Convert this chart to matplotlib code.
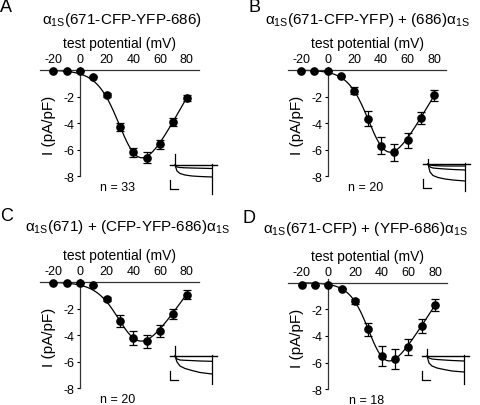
import numpy as np
import matplotlib
matplotlib.use("Agg")
import matplotlib.pyplot as plt

plt.rcParams['font.family'] = ['Liberation Sans', 'DejaVu Sans']
plt.rcParams['mathtext.fontset'] = 'custom'
plt.rcParams['mathtext.rm'] = 'Liberation Sans'
plt.rcParams['mathtext.it'] = 'Liberation Sans:italic'
plt.rcParams['axes.unicode_minus'] = False

# ---------------- data ----------------
voltages = [-20, -10, 0, 10, 20, 30, 40, 50, 60, 70, 80]
x_ticks = [-20, 0, 20, 40, 60, 80]
y_ticks = [-2, -4, -6, -8]

panel_letters = ['A', 'B', 'C', 'D']
panel_titles = [
    r'α$_{\mathregular{1S}}$(671-CFP-YFP-686)',
    r'α$_{\mathregular{1S}}$(671-CFP-YFP) + (686)α$_{\mathregular{1S}}$',
    r'α$_{\mathregular{1S}}$(671) + (CFP-YFP-686)α$_{\mathregular{1S}}$',
    r'α$_{\mathregular{1S}}$(671-CFP) + (YFP-686)α$_{\mathregular{1S}}$',
]
n_cells = [33, 20, 20, 18]

current_A = [-0.1, -0.1, -0.1, -0.5, -1.85, -4.25, -6.2, -6.6, -5.6, -3.9, -2.1]
sem_A = [0.0, 0.0, 0.0, 0.05, 0.15, 0.3, 0.35, 0.4, 0.35, 0.3, 0.2]
current_B = [-0.05, -0.05, -0.05, -0.45, -1.55, -3.65, -5.7, -6.2, -5.3, -3.6, -1.9]
sem_B = [0.0, 0.0, 0.0, 0.05, 0.25, 0.55, 0.65, 0.65, 0.55, 0.45, 0.4]
current_C = [-0.05, -0.05, -0.05, -0.25, -1.25, -2.95, -4.2, -4.45, -3.7, -2.4, -0.95]
sem_C = [0.0, 0.0, 0.0, 0.05, 0.15, 0.45, 0.5, 0.5, 0.45, 0.35, 0.35]
current_D = [-0.15, -0.15, -0.15, -0.45, -1.4, -3.5, -5.5, -5.75, -4.8, -3.25, -1.7]
sem_D = [0.0, 0.0, 0.0, 0.05, 0.2, 0.5, 0.75, 0.75, 0.6, 0.5, 0.45]

# Boltzmann fit parameters: gmax, Vrev, V1/2, k
fit_A = [0.18, 91.7, 34.1, 8.5]
fit_B = [0.17, 91.2, 34.9, 7.9]
fit_C = [0.14, 86.6, 34.7, 8.85]
fit_D = [0.155, 91.0, 33.8, 7.25]

# example current traces (inset), time in ms-like units after pulse onset
trace_time = [0, 2, 5, 10, 17, 25, 37]
traces_A = [[0, -2, -2.5, -2.8, -3, -3.2, -3.5],
            [0, -6, -8.5, -10, -11, -11.5, -12]]
traces_B = [[0, -1, -1.5, -1.8, -2, -2, -2],
            [0, -3, -4, -4.5, -5, -5.5, -6],
            [0, -8, -11.5, -13.5, -15, -16, -17]]
traces_C = [[0, -3, -4, -4.3, -4.6, -5, -5.3],
            [0, -6, -10, -12.5, -14.5, -16.5, -18]]
traces_D = [[0, -2, -3, -3.5, -4, -4.5, -5],
            [0, -7, -10, -12, -13.5, -15, -16]]
tail_A, tail_B, tail_C, tail_D = -29, -27, -28, -28
cap_A, cap_B, cap_C, cap_D = 11, 5, 10, 7

currents = [current_A, current_B, current_C, current_D]
sems = [sem_A, sem_B, sem_C, sem_D]
fits = [fit_A, fit_B, fit_C, fit_D]
traces = [traces_A, traces_B, traces_C, traces_D]
tails = [tail_A, tail_B, tail_C, tail_D]
caps = [cap_A, cap_B, cap_C, cap_D]

# ---------------- layout (pixel positions) ----------------
W, H = 480, 406
fig = plt.figure(figsize=(W / 100, H / 100), dpi=100)

def rect(x0, y0, x1, y1):
    return [x0 / W, 1 - y1 / H, (x1 - x0) / W, (y1 - y0) / H]

origins = [(80, 71), (327.7, 71), (80, 283), (328.3, 283.7)]
inset_origins = [(175, 166), (428, 165), (175, 357), (427, 357)]
px_per_mV = 1.333
px_per_unit = 13.3
xmin, xmax = -30, 89
ymin, ymax = -8, 0.25

letter_pos = [(6, 8), (255, 8), (7, 217), (249, 219)]
title_pos = [(122, 20, 'center'), (265, 20, 'left'), (25, 227, 'left'), (263, 229, 'left')]

for i in range(4):
    ox, oy = origins[i]
    x0 = ox + xmin * px_per_mV
    x1 = ox + xmax * px_per_mV
    y0 = oy - ymax * px_per_unit
    y1 = oy - ymin * px_per_unit
    ax = fig.add_axes(rect(x0, y0, x1, y1))
    ax.set_xlim(xmin, xmax)
    ax.set_ylim(ymin, ymax)
    ax.patch.set_alpha(0)
    for s in ['right', 'bottom']:
        ax.spines[s].set_visible(False)
    ax.spines['top'].set_position(('data', 0))
    ax.spines['left'].set_position(('data', 0))
    for s in ['top', 'left']:
        ax.spines[s].set_linewidth(0.9)
        ax.spines[s].set_color('#333333')
    ax.xaxis.set_ticks_position('top')
    ax.set_xticks(x_ticks)
    ax.set_xticklabels([str(v) for v in x_ticks])
    ax.set_yticks(y_ticks)
    ax.set_yticklabels([str(v) for v in y_ticks])
    ax.tick_params(axis='x', length=0, pad=3.5, labelsize=9)
    ax.tick_params(axis='y', length=2.5, width=0.8, pad=1.5, labelsize=9, direction='out')

    g, vrev, vh, k = fits[i]
    vv = np.linspace(-20, 80, 300)
    ax.plot(vv, g * (vv - vrev) / (1 + np.exp((vh - vv) / k)), color='black', lw=0.9, zorder=2)
    ax.errorbar(voltages, currents[i], yerr=sems[i], fmt='o', color='black', ms=5.2,
                capsize=2.8, elinewidth=0.9, capthick=0.9, zorder=3, clip_on=False)

    ax.text(0.5, (y1 - 44 + (oy - 71) * 0) / (y1 - y0) if False else (y1 - (oy - 27)) / (y1 - y0),
            'test potential (mV)', transform=ax.transAxes, ha='center', va='center', fontsize=10)
    ax.text((ox - 31 - x0) / (x1 - x0), 0.5 - 0.03, 'I (pA/pF)', transform=ax.transAxes,
            rotation=90, ha='center', va='center', fontsize=11)
    ax.text((ox + 38 - x0) / (x1 - x0), (y1 - (y1 + 11)) / (y1 - y0), 'n = %d' % n_cells[i],
            transform=ax.transAxes, ha='center', va='center', fontsize=9)

    # panel letter and title
    lx, ly = letter_pos[i]
    fig.text(lx / W, 1 - ly / H, panel_letters[i], ha='center', va='center', fontsize=13)
    tx, ty, tha = title_pos[i]
    fig.text(tx / W, 1 - ty / H, panel_titles[i], ha=tha, va='center', fontsize=11)

    # inset with example current traces
    ix, iy = inset_origins[i]
    iax = fig.add_axes(rect(ix - 10, iy - 15, ix + 45, iy + 35))
    iax.set_xlim(-10, 45)
    iax.set_ylim(-35, 15)
    iax.axis('off')
    t_end = trace_time[-1]
    iax.plot([-5, t_end + 5], [0, 0], color='black', lw=1.0)
    for tr in traces[i]:
        iax.plot(trace_time, tr, color='black', lw=0.9)
    iax.plot([t_end, t_end], [1, tails[i]], color='black', lw=0.9)
    iax.plot([0, 0], [0, caps[i]], color='black', lw=0.9)
    # scale bar
    iax.plot([-5, -5, 3], [-15, -24, -24], color='black', lw=0.9)

fig.savefig('out.png', dpi=100)
